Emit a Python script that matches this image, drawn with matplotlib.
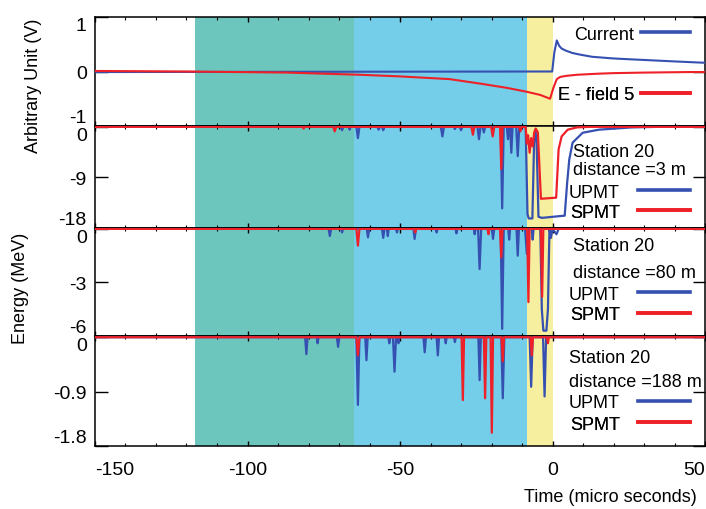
import numpy as np
import matplotlib.pyplot as plt
from matplotlib.lines import Line2D

plt.rcParams["font.family"] = ["Liberation Sans", "DejaVu Sans"]
plt.rcParams["axes.unicode_minus"] = False

BLUE = "#3550b0"
RED = "#ee2028"
FS = 13

# shaded phases (micro seconds)
phases = [(-117.3, -65.1, "#6dc6be"), (-65.1, -8.4, "#74cde9"), (-8.4, 0.0, "#f7efa0")]

# panel 1: current and E-field (arbitrary unit)
current_t = [-150, -1.0, -0.1, 0.6, 1.4, 2.2, 3.0, 4.5, 6.5, 9.0, 13.0, 19.8, 25.0, 30.7, 38.0, 45.9, 50]
current_v = [-0.01, 0.0, 0.0, 0.35, 0.57, 0.47, 0.42, 0.38, 0.34, 0.31, 0.27, 0.24, 0.225, 0.21, 0.19, 0.17, 0.16]
efield_t = [-150, -120, -87, -63, -50, -33.7, -22.8, -15, -8.6, -4, -0.8, 0.3, 1.4, 2.5, 4.5, 8, 15, 20, 30, 45, 50]
efield_v = [0.01, 0.0, -0.02, -0.06, -0.09, -0.14, -0.23, -0.3, -0.37, -0.43, -0.5, -0.3, -0.14, -0.1,
            -0.08, -0.06, -0.04, -0.03, -0.02, -0.01, -0.01]

# station 20, 3 m: spikes as (time, depth MeV, half width) + waveform after -9 us
upmt_3m_spikes = [(-69, -0.6, 0.4), (-66.5, -0.5, 0.3), (-63.8, -2.0, 0.5), (-57, -0.5, 0.4),
                  (-55.5, -0.6, 0.4), (-36.1, -1.7, 0.5), (-32, -0.4, 0.3), (-30, -0.6, 0.4),
                  (-24.1, -2.2, 0.5), (-22.5, -1.0, 0.4), (-16.5, -14.5, 0.5), (-14.6, -2.2, 0.4),
                  (-13.5, -4.6, 0.4), (-11.4, -5.2, 0.5)]
upmt_3m_tail = [(-8.8, 0), (-8.2, -15.5), (-7.8, -16.3), (-6.6, -16.3), (-6.0, -2), (-5.6, -0.5),
                (-5.2, -3), (-4.6, -16.0), (-3.5, -16.2), (4.0, -15.8), (4.8, -10), (5.5, -5.8),
                (6.6, -2.8), (9.9, -1.05), (15.3, -0.5), (26, -0.1), (35, 0), (50, 0)]
spmt_3m_spikes = [(-81.6, -0.3, 0.4), (-71.4, -0.8, 0.5), (-26.1, -1.4, 0.5), (-19.6, -1.7, 0.5),
                  (-16.8, -7.5, 0.4), (-10.5, -0.8, 0.4)]
spmt_3m_tail = [(-8.8, 0), (-8.4, -3), (-8.0, -1.5), (-7.5, -4.6), (-7.0, -2.0), (-6.5, -3.5),
                (-6.0, -1.0), (-5.5, -0.3), (-4.8, -1.0), (-3.8, -12.8), (1.2, -12.6), (2.0, -4.0),
                (3.0, -1.7), (5.0, -0.5), (8, -0.1), (12, 0), (50, 0)]

# station 20, 80 m
upmt_80m_spikes = [(-73, -0.4, 0.4), (-69, -0.2, 0.3), (-60.5, -0.47, 0.4), (-55.5, -0.5, 0.4),
                   (-54, -0.4, 0.3), (-51, -0.2, 0.3), (-45.2, -0.56, 0.4), (-38, -0.2, 0.3),
                   (-31.5, -0.25, 0.3), (-25.5, -0.3, 0.3), (-23.9, -2.25, 0.5), (-19.5, -0.56, 0.4),
                   (-16.5, -5.6, 0.5), (-14.2, -0.6, 0.3), (-11.4, -1.5, 0.4)]
upmt_80m_tail = [(-9, 0), (-8.4, -1.4), (-7.8, 0), (-6.8, 0), (-6.5, -0.6), (-6.2, 0), (-4.0, 0),
                 (-3.5, -4.5), (-3.0, -5.7), (-2.0, -5.7), (-1.5, -4.5), (-1.0, 0), (-0.5, -0.5),
                 (0, 0), (1.3, -0.3), (2, 0), (50, 0)]
spmt_80m_spikes = [(-63.8, -0.94, 0.5), (-45, -0.2, 0.3), (-21, -0.3, 0.3), (-16.8, -1.6, 0.4),
                   (-7.9, -4.1, 0.4), (-3.4, -3.8, 0.4)]

# station 20, 188 m
upmt_188m_spikes = [(-80.7, -0.28, 0.4), (-77, -0.1, 0.3), (-70.3, -0.16, 0.4), (-63.8, -1.12, 0.5),
                    (-61, -0.38, 0.4), (-53.5, -0.1, 0.3), (-51.8, -0.57, 0.5), (-50.5, -0.1, 0.3),
                    (-41.9, -0.25, 0.4), (-37.6, -0.3, 0.4), (-35, -0.1, 0.3), (-32, -0.08, 0.3),
                    (-23.9, -0.71, 0.4), (-16.3, -1.01, 0.5), (-7.0, -0.82, 0.5), (-2.6, -0.98, 0.5)]
spmt_188m_spikes = [(-63.8, -0.3, 0.5), (-29.4, -1.04, 0.4), (-22.1, -1.01, 0.4), (-19.9, -1.58, 0.4),
                    (-16.3, -0.4, 0.4), (-6.8, -0.3, 0.4), (-1.5, -0.1, 0.3)]

station_text = ["distance =3 m", "distance =80 m", "distance =188 m"]


def build_trace(spikes, tail=((50, 0),)):
    pts = [(-150.0, 0.0)]
    for t, d, w in sorted(spikes):
        pts += [(t - w, 0.0), (t, d), (t + w, 0.0)]
    pts += list(tail)
    arr = np.array(pts, dtype=float)
    return arr[:, 0], arr[:, 1]


W, H = 706, 510
fig = plt.figure(figsize=(W / 100, H / 100), dpi=100)

panels_px = [(18, 127), (127, 229), (229, 337), (337, 447)]
left_px, right_px = 95, 705
axes = []
for top, bot in panels_px:
    ax = fig.add_axes([left_px / W, 1 - bot / H, (right_px - left_px) / W, (bot - top) / H])
    axes.append(ax)

ylims = [(-1, 1), (-18, 0.15), (-6, 0.05), (-1.8, 0.02)]
yticks = [[1, 0, -1], [0, -9, -18], [0, -3, -6], [0, -0.9, -1.8]]
ylabels = [["1", "0", "-1"], ["0", "-9", "-18"], ["0", "-3", "-6"], ["0", "-0.9", "-1.8"]]

for i, ax in enumerate(axes):
    for a, b, c in phases:
        ax.axvspan(a, b, color=c, lw=0, zorder=0)
    ax.set_xlim(-150, 50)
    ax.set_ylim(*ylims[i])
    ax.set_yticks(yticks[i])
    ax.set_yticklabels(ylabels[i])
    ax.set_xticks([-150, -100, -50, 0, 50])
    ax.set_xticks(np.arange(-150, 51, 10), minor=True)
    ax.tick_params(axis="x", which="major", direction="in", length=3.5, width=1, top=True, pad=11,
                   labelsize=14)
    ax.tick_params(axis="x", which="minor", direction="in", length=2, width=0.8, top=True)
    ax.tick_params(axis="y", which="major", direction="in", length=9, width=1, right=True, pad=6,
                   labelsize=14)
    for s in ax.spines.values():
        s.set_linewidth(1.1)
    labs = ax.get_yticklabels()
    labs[0].set_va("top")
    labs[-1].set_va("bottom")
    if i < 3:
        ax.tick_params(axis="x", labelbottom=False)

xl = axes[3].get_xticklabels()
xl[0].set_ha("left")
xl[-1].set_ha("right")

# panel 1
axes[0].plot(current_t, current_v, color=BLUE, lw=1.5, zorder=3)
axes[0].plot(efield_t, efield_v, color=RED, lw=1.5, zorder=3)

traces = [
    (build_trace(upmt_3m_spikes, upmt_3m_tail), build_trace(spmt_3m_spikes, spmt_3m_tail)),
    (build_trace(upmt_80m_spikes, upmt_80m_tail), build_trace(spmt_80m_spikes)),
    (build_trace(upmt_188m_spikes), build_trace(spmt_188m_spikes)),
]
for ax, (up, sp) in zip(axes[1:], traces):
    ax.plot(*up, color=BLUE, lw=1.6, zorder=3)
    ax.plot(*sp, color=RED, lw=1.6, zorder=3)


def key(ax, label, color, y_px, hl=2.9, pad=1.0):
    leg = ax.legend([Line2D([], [], color=color, lw=2.6)], [label], loc="center right",
                    bbox_to_anchor=(690 / W, 1 - y_px / H), bbox_transform=fig.transFigure,
                    frameon=False, markerfirst=False, fontsize=FS, handlelength=hl,
                    handletextpad=pad, borderpad=0, borderaxespad=0)
    ax.add_artist(leg)


key(axes[0], "Current", BLUE, 35, hl=2.7, pad=0.4)
key(axes[0], "E - field 5", RED, 96, hl=2.7, pad=0.4)
key_rows = [(193, 213), (295, 316), (404, 425)]
st_rows = [(573, 157, 175), (573, 251, 278), (569, 363, 387)]
for ax, (yu, ys), (xs, y1, y2), dist in zip(axes[1:], key_rows, st_rows, station_text):
    key(ax, "UPMT", BLUE, yu)
    key(ax, "SPMT", RED, ys)
    fig.text(xs / W, 1 - y1 / H, "Station 20", fontsize=FS, va="baseline", ha="left")
    fig.text(xs / W, 1 - y2 / H, dist, fontsize=FS, va="baseline", ha="left")

fig.text(33 / W, 1 - 86 / H, "Arbitrary Unit (V)", rotation=90, fontsize=FS, ha="center", va="center")
fig.text(21 / W, 1 - 288 / H, "Energy (MeV)", rotation=90, fontsize=FS, ha="center", va="center")
fig.text(697 / W, 1 - 498 / H, "Time (micro seconds)", fontsize=FS, ha="right", va="center")

fig.savefig("out.png", dpi=100)
